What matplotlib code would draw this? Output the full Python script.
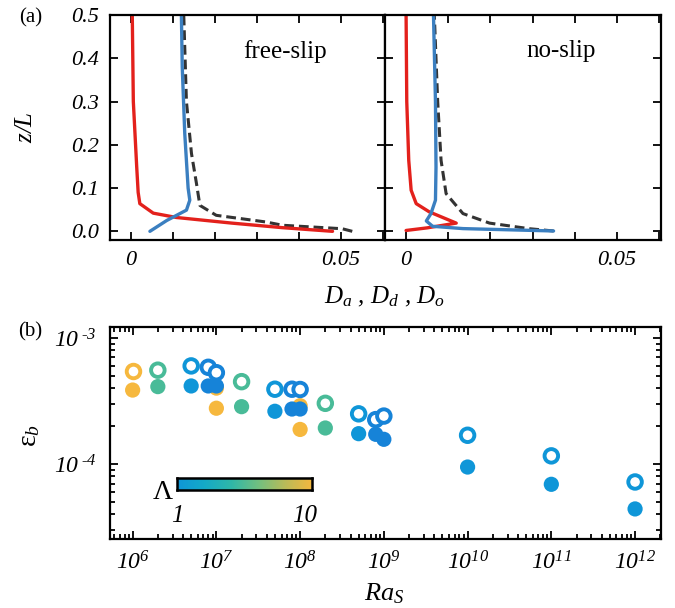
import numpy as np
import matplotlib
matplotlib.use("Agg")
import matplotlib.pyplot as plt
from matplotlib.colors import LinearSegmentedColormap, LogNorm
from matplotlib.ticker import FixedLocator, FuncFormatter, LogLocator, NullFormatter

plt.rcParams['font.family'] = ['Liberation Serif', 'DejaVu Serif']
plt.rcParams['font.style'] = 'italic'
plt.rcParams['mathtext.fontset'] = 'custom'
plt.rcParams['mathtext.rm'] = 'Liberation Serif:italic'
plt.rcParams['mathtext.it'] = 'Liberation Serif:italic'
plt.rcParams['mathtext.bf'] = 'Liberation Serif:bold'

# -------------------------------
# Profiles (panel a)
# -------------------------------
# free-slip
fs_red_x = [0.048, 0.036, 0.024, 0.0108, 0.0053, 0.0021, 0.0017, 0.00135, 0.00055, 0.0003]
fs_red_z = [0.0, 0.0085, 0.019, 0.032, 0.042, 0.064, 0.09, 0.15, 0.30, 0.5]
fs_blue_x = [0.0045, 0.0085, 0.0132, 0.014, 0.0136, 0.0128, 0.0122, 0.012]
fs_blue_z = [0.0, 0.025, 0.049, 0.072, 0.10, 0.226, 0.38, 0.5]
fs_dash_x = [0.0527, 0.0503, 0.0361, 0.0322, 0.0203, 0.0164, 0.0156, 0.0144, 0.0132, 0.01256]
fs_dash_z = [0.0, 0.006, 0.014, 0.0215, 0.037, 0.06, 0.11, 0.18, 0.30, 0.5]

# no-slip
ns_red_x = [0.0, 0.005, 0.0119, 0.0055, 0.0024, 0.0012, 0.00063, 0.00016, 0.0]
ns_red_z = [0.002, 0.008, 0.019, 0.045, 0.064, 0.095, 0.164, 0.30, 0.5]
ns_blue_x = [0.035, 0.0135, 0.0063, 0.0048, 0.0059, 0.00697, 0.0071, 0.00697, 0.0065]
ns_blue_z = [0.0008, 0.0063, 0.0116, 0.024, 0.041, 0.072, 0.148, 0.30, 0.5]
ns_dash_x = [0.035, 0.0293, 0.0198, 0.0135, 0.0095, 0.0083, 0.0075, 0.0067]
ns_dash_z = [0.0008, 0.006, 0.019, 0.041, 0.087, 0.164, 0.30, 0.5]

# -------------------------------
# Dissipation (panel b)
# -------------------------------
open_ra = [1e6, 2e6, 5e6, 8e6, 1e7, 2e7, 5e7, 8e7, 1e8, 2e8, 5e8, 8e8, 1e9, 1e10, 1e11, 1e12]
open_eps = [5.5e-4, 5.55e-4, 6.0e-4, 5.85e-4, 5.3e-4, 4.5e-4, 3.92e-4, 3.92e-4, 3.9e-4,
            3.03e-4, 2.5e-4, 2.25e-4, 2.4e-4, 1.69e-4, 1.16e-4, 7.2e-5]
open_lam = [10, 3, 1, 0.7, 0.7, 3, 1, 0.7, 0.7, 3, 1, 0.7, 0.7, 1, 1, 1]

fill_ra = [1e6, 2e6, 1e7, 1e7, 5e6, 8e6, 1e7, 2e7, 1e8, 1e8, 5e7, 8e7, 1e8, 2e8,
           5e8, 8e8, 1e9, 1e10, 1e11, 1e12]
fill_eps = [3.86e-4, 4.11e-4, 4.0e-4, 2.77e-4, 4.16e-4, 4.16e-4, 4.16e-4, 2.85e-4, 2.9e-4,
            1.88e-4, 2.62e-4, 2.73e-4, 2.73e-4, 1.93e-4, 1.74e-4, 1.72e-4, 1.57e-4,
            9.46e-5, 6.9e-5, 4.4e-5]
fill_lam = [10, 3, 10, 10, 1, 0.7, 0.7, 3, 10, 10, 1, 0.7, 0.7, 3, 1, 0.7, 0.7, 1, 1, 1]

RED = '#e3211c'
BLUE = '#3b7fc0'

cmap = LinearSegmentedColormap.from_list(
    'lam', ['#0f96d8', '#14aac8', '#2fb7a8', '#72c080', '#bbbb58', '#f6b83e'])
cmap.set_under('#1683d8')
norm = LogNorm(vmin=1, vmax=10)

fig = plt.figure(figsize=(6.75, 6.08), dpi=100)
ax1 = fig.add_axes([0.163, 0.6053, 0.4074, 0.370])
ax2 = fig.add_axes([0.5704, 0.6053, 0.4089, 0.370])
ax3 = fig.add_axes([0.163, 0.1135, 0.8163, 0.3487])

def style(ax, size=16, pad=7):
    for s in ax.spines.values():
        s.set_linewidth(1.6)
    ax.tick_params(which='both', direction='in', top=True, right=True,
                   width=1.3, labelsize=size, pad=pad)
    ax.tick_params(which='major', length=6)
    ax.tick_params(which='minor', length=3.5)

def d_fmt(v, p):
    if abs(v) < 1e-9:
        return '0'
    if abs(v - 0.05) < 1e-9:
        return '0.05'
    return ''

for ax, (rx, rz, bx, bz, dx, dz), lab in [
        (ax1, (fs_red_x, fs_red_z, fs_blue_x, fs_blue_z, fs_dash_x, fs_dash_z), 'free-slip'),
        (ax2, (ns_red_x, ns_red_z, ns_blue_x, ns_blue_z, ns_dash_x, ns_dash_z), 'no-slip')]:
    ax.plot(dx, dz, color='#333333', lw=2.2, ls=(0, (3.2, 1.6)))
    ax.plot(rx, rz, color=RED, lw=2.4, solid_capstyle='round')
    ax.plot(bx, bz, color=BLUE, lw=2.4, solid_capstyle='round')
    ax.set_xlim(-0.005, 0.0605)
    ax.set_ylim(-0.02, 0.5)
    ax.xaxis.set_major_locator(FixedLocator(np.arange(0, 0.061, 0.01)))
    ax.xaxis.set_major_formatter(FuncFormatter(d_fmt))
    ax.yaxis.set_major_locator(FixedLocator(np.arange(0, 0.51, 0.1)))
    style(ax, size=16, pad=8)
    ax.text(0.637, 0.84, lab, transform=ax.transAxes, ha='center', va='center',
            fontsize=18, fontstyle='normal')

ax1.yaxis.set_major_formatter(FuncFormatter(lambda v, p: f'{v:.1f}'))
ax2.tick_params(labelleft=False)
ax1.set_ylabel('$z/L$', fontsize=18)
ax1.yaxis.set_label_coords(-0.265, 0.5)
fig.text(0.570, 0.512, '$D_a$ , $D_d$ , $D_o$', ha='center', va='center', fontsize=18)

# -------------------------------
# panel b
# -------------------------------
for lam_val in [10, 3, 1, 0.7]:
    idx = [i for i, l in enumerate(fill_lam) if l == lam_val]
    ax3.scatter([fill_ra[i] for i in idx], [fill_eps[i] for i in idx],
                c=[fill_lam[i] for i in idx], cmap=cmap, norm=norm, s=120, lw=0, zorder=3)
    idx = [i for i, l in enumerate(open_lam) if l == lam_val]
    cols = [cmap(norm(open_lam[i])) for i in idx]
    ax3.scatter([open_ra[i] for i in idx], [open_eps[i] for i in idx],
                facecolors='white', edgecolors=cols, s=95, lw=2.8, zorder=3)

ax3.set_xscale('log')
ax3.set_yscale('log')
ax3.set_xlim(10**5.73, 10**12.31)
ax3.set_ylim(10**-4.595, 10**-2.913)
ax3.xaxis.set_major_locator(LogLocator(base=10, numticks=20))
ax3.xaxis.set_minor_locator(LogLocator(base=10, subs=np.arange(2, 10), numticks=20))
ax3.yaxis.set_minor_locator(LogLocator(base=10, subs=np.arange(2, 10), numticks=20))
ax3.xaxis.set_minor_formatter(NullFormatter())
ax3.yaxis.set_minor_formatter(NullFormatter())
ax3.xaxis.set_major_formatter(FuncFormatter(lambda v, p: '$10^{%d}$' % round(np.log10(v))))
ax3.yaxis.set_major_formatter(FuncFormatter(
    lambda v, p: '$10^{\u2009\u2010%d}$' % abs(round(np.log10(v)))))
style(ax3, size=17, pad=9)
ax3.tick_params(axis='y', pad=10)
fig.text(0.569, 1 - 600 / 608, '$Ra_S$', ha='center', va='baseline', fontsize=19)
ax3.set_ylabel('\u03b5$_b$', fontsize=20, fontstyle='normal')
ax3.yaxis.set_label_coords(-0.123, 0.486)

# colorbar
cax = fig.add_axes([0.2622, 0.194, 0.2, 0.0197])
grad = np.logspace(0, 1, 256).reshape(1, -1)
cax.imshow(grad, aspect='auto', cmap=cmap, norm=norm, extent=[0, 1, 0, 1])
cax.set_xticks([])
cax.set_yticks([])
for s in cax.spines.values():
    s.set_linewidth(1.8)
fig.text(0.2622, 0.152, '1', ha='center', va='center', fontsize=18)
fig.text(0.452, 0.152, '10', ha='center', va='center', fontsize=18)
fig.text(0.256, 0.19, '\u039b', ha='right', va='center', fontsize=20, fontstyle='normal')

fig.text(0.045, 0.97, '(a)', ha='center', va='center', fontsize=15, fontstyle='normal')
fig.text(0.045, 0.455, '(b)', ha='center', va='center', fontsize=15, fontstyle='normal')

fig.savefig('out.png', dpi=100)
